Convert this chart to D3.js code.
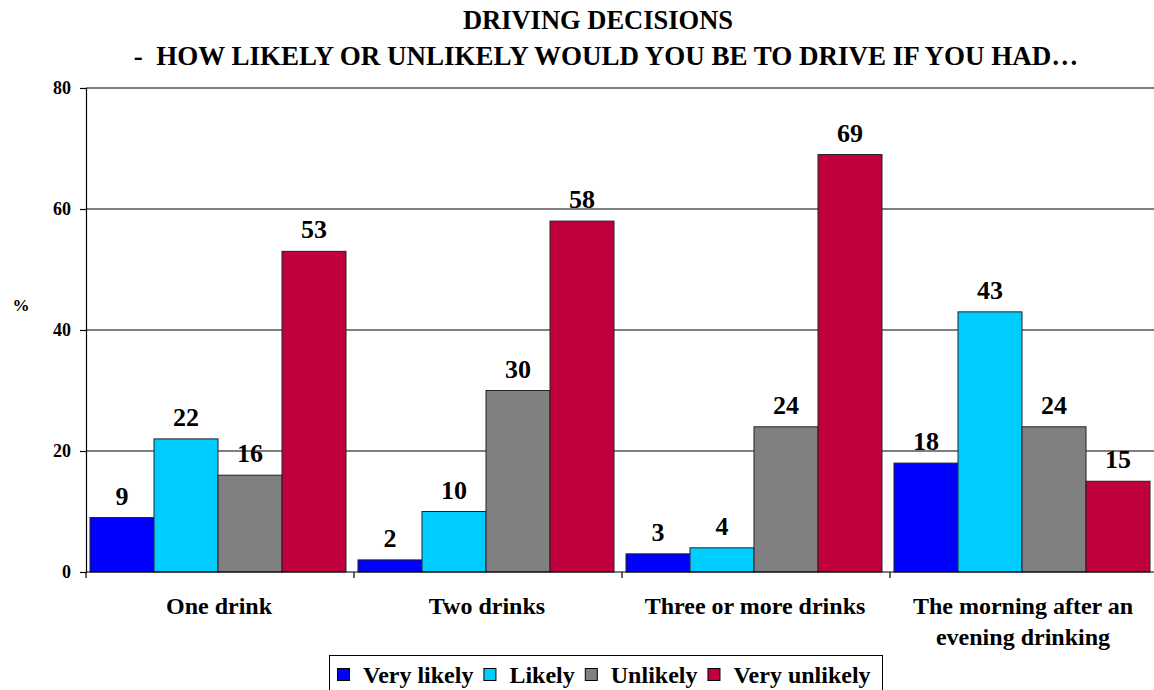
<!DOCTYPE html>
<html>
<head>
<meta charset="utf-8">
<script src="https://cdn.jsdelivr.net/npm/d3@7"></script>
<style>
  html, body { margin: 0; padding: 0; background: #fff; }
  svg { display: block; }
</style>
</head>
<body>
<script>
const categories = ["One drink", "Two drinks", "Three or more drinks", "The morning after an evening drinking"];
const categoryLines = [["One drink"], ["Two drinks"], ["Three or more drinks"], ["The morning after an", "evening drinking"]];
const seriesNames = ["Very likely", "Likely", "Unlikely", "Very unlikely"];
const veryLikely = [9, 2, 3, 18];
const likely = [22, 10, 4, 43];
const unlikely = [16, 30, 24, 24];
const veryUnlikely = [53, 58, 69, 15];
const yTicks = [0, 20, 40, 60, 80];
const colors = ["#0000FF", "#00CCFF", "#808080", "#C0003C"];
const titleLines = ["DRIVING DECISIONS", "-\u00a0 HOW LIKELY OR UNLIKELY WOULD YOU BE TO DRIVE IF YOU HAD\u2026"];

const seriesValues = [veryLikely, likely, unlikely, veryUnlikely];

(function () {
const FONT = "'Liberation Serif', 'Times New Roman', Times, serif";
const W = 1154, H = 690;
const plotLeft = 86, plotRight = 1158, plotTop = 88, plotBottom = 572;

const svg = d3.select("body").append("svg").attr("width", W).attr("height", H)
  .attr("font-family", FONT).attr("font-weight", "bold");

function txt(sel) {
  return sel.append("text").attr("font-family", FONT).attr("font-weight", "bold").attr("fill", "#000");
}

// Title
txt(svg).attr("x", 598).attr("y", 29).attr("text-anchor", "middle")
  .attr("font-size", 26.5).text(titleLines[0]);
txt(svg).attr("x", 606).attr("y", 65).attr("text-anchor", "middle")
  .attr("font-size", 27).text(titleLines[1]);

const y = d3.scaleLinear().domain([0, 80]).range([plotBottom, plotTop]);
const x0 = d3.scaleBand().domain(categories).range([plotLeft, plotRight]).padding(0);
const x1 = d3.scaleBand().domain(seriesNames).range([4, x0.bandwidth() - 8]).padding(0);

// Gridlines
svg.append("g").selectAll("line").data(yTicks.filter(d => d > 0)).join("line")
  .attr("x1", plotLeft).attr("x2", plotRight)
  .attr("y1", d => y(d)).attr("y2", d => y(d))
  .attr("stroke", "#000").attr("stroke-width", 1.2);

// Bars
const groups = svg.append("g").selectAll("g").data(categories).join("g")
  .attr("transform", c => `translate(${x0(c)},0)`);

groups.each(function(c, ci) {
  const g = d3.select(this);
  seriesNames.forEach((s, si) => {
    const v = seriesValues[si][ci];
    g.append("rect")
      .attr("x", x1(s)).attr("width", x1.bandwidth())
      .attr("y", y(v)).attr("height", y(0) - y(v))
      .attr("fill", colors[si]).attr("stroke", "#222").attr("stroke-width", 1);
    txt(g)
      .attr("x", x1(s) + x1.bandwidth() / 2).attr("y", y(v) - 13)
      .attr("text-anchor", "middle").attr("font-size", 26).text(v);
  });
});

// Y axis
const yAxis = d3.axisLeft(y).tickValues(yTicks).tickSize(6).tickPadding(9);
const ya = svg.append("g").attr("transform", `translate(${plotLeft},0)`).call(yAxis);
ya.attr("font-family", FONT).attr("font-size", 18).attr("font-weight", "bold");
ya.select(".domain").attr("stroke", "#000").attr("stroke-width", 1.2);
ya.selectAll(".tick line").attr("stroke", "#000").attr("stroke-width", 1.2);
ya.selectAll(".tick text").attr("fill", "#000");

txt(svg).attr("x", 21).attr("y", 311).attr("text-anchor", "middle")
  .attr("font-size", 17).text("%");

// X axis
svg.append("line").attr("x1", plotLeft).attr("x2", plotRight).attr("y1", plotBottom).attr("y2", plotBottom)
  .attr("stroke", "#000").attr("stroke-width", 1.2);
const boundaries = categories.map(c => x0(c));
svg.append("g").selectAll("line").data(boundaries).join("line")
  .attr("x1", d => d).attr("x2", d => d).attr("y1", plotBottom).attr("y2", plotBottom + 6)
  .attr("stroke", "#000").attr("stroke-width", 1.2);

categories.forEach((c, ci) => {
  const cx = x0(c) + x0.bandwidth() / 2 - 1;
  const t = txt(svg).attr("text-anchor", "middle").attr("font-size", 24)
    .attr("x", cx).attr("y", 614);
  categoryLines[ci].forEach((ln, li) => {
    t.append("tspan").attr("x", cx).attr("dy", li === 0 ? 0 : 31).text(ln);
  });
});

// Legend
const legend = svg.append("g");
legend.append("rect").attr("x", 329.5).attr("y", 655.5).attr("width", 553).attr("height", 40)
  .attr("fill", "#fff").attr("stroke", "#000").attr("stroke-width", 1);
let lx = 337;
seriesNames.forEach((s, si) => {
  legend.append("rect").attr("x", lx + 0.5).attr("y", 668.5).attr("width", 12).attr("height", 12)
    .attr("fill", colors[si]).attr("stroke", "#000").attr("stroke-width", 1);
  const t = txt(legend).attr("x", lx + 26).attr("y", 683)
    .attr("font-size", 24).text(s);
  lx = lx + 26 + t.node().getComputedTextLength() + 10;
});
})();
</script>
</body>
</html>
